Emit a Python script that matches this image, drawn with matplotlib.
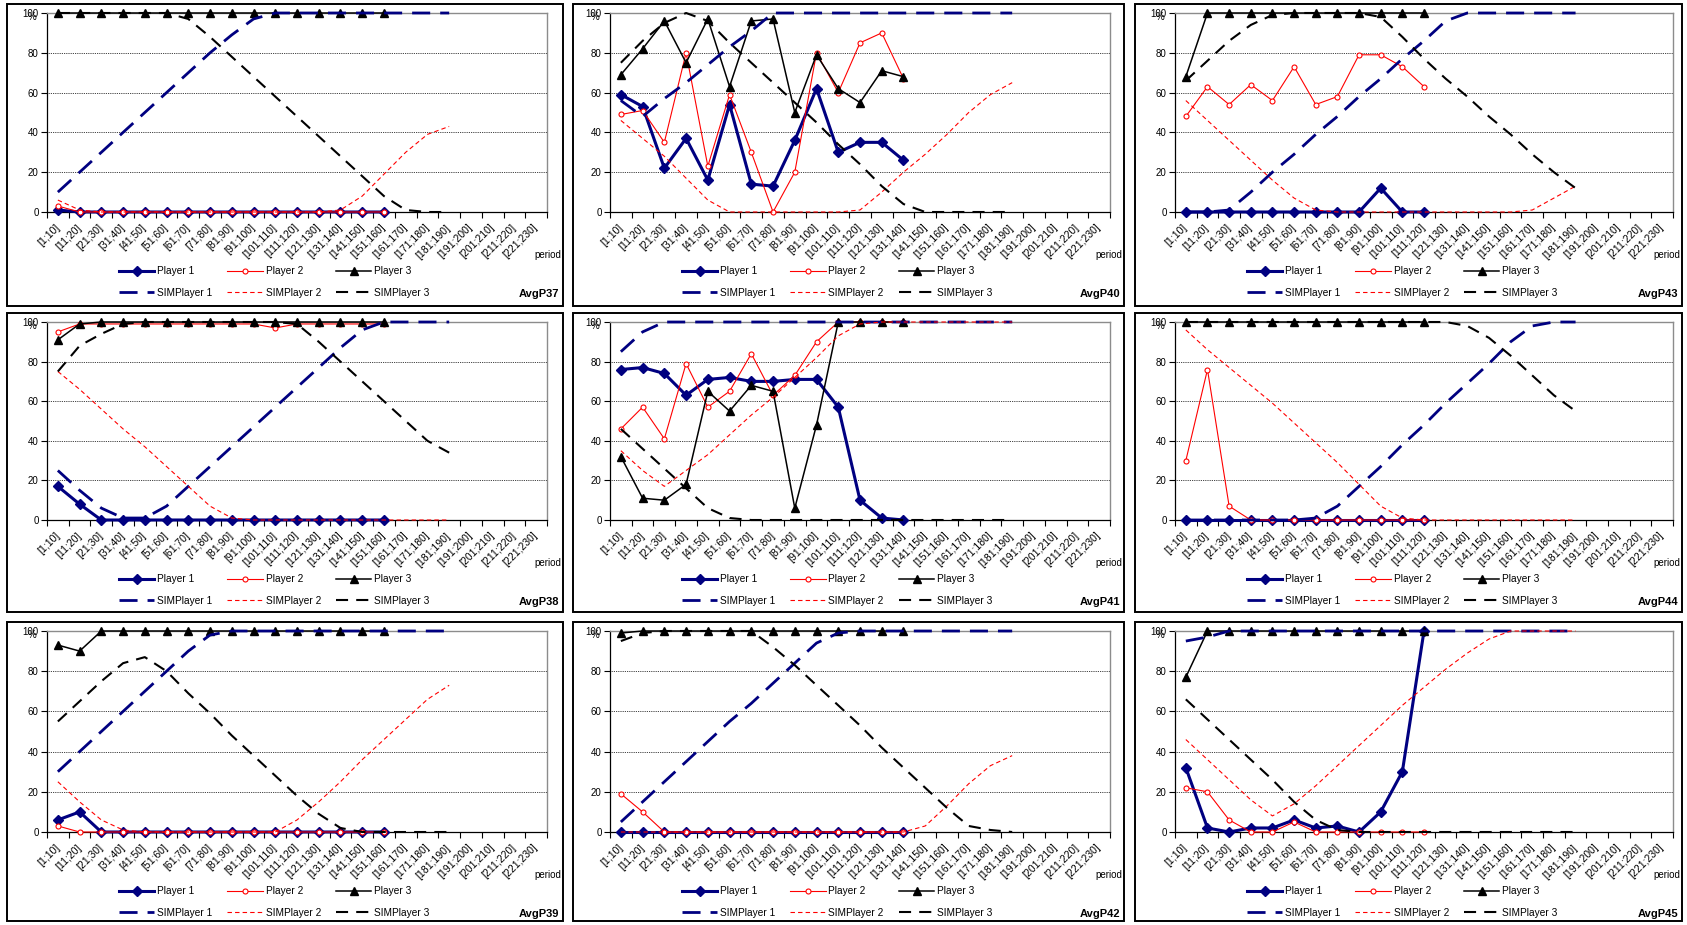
import matplotlib
matplotlib.use("Agg")
import matplotlib.pyplot as plt
from matplotlib.patches import Rectangle

plt.rcParams['font.family'] = ['Liberation Sans', 'DejaVu Sans']

periods = ["[1;10]", "[11;20]", "[21;30]", "[31;40]", "[41;50]", "[51;60]",
           "[61;70]", "[71;80]", "[81;90]", "[91;100]", "[101;110]", "[111;120]",
           "[121;130]", "[131;140]", "[141;150]", "[151;160]", "[161;170]",
           "[171;180]", "[181;190]", "[191;200]", "[201;210]", "[211;220]",
           "[221;230]"]
y_ticks = [0, 20, 40, 60, 80, 100]
series_names = ["Player 1", "Player 2", "Player 3",
                "SIMPlayer 1", "SIMPlayer 2", "SIMPlayer 3"]

# ---- AvgP37 ----
p37_player1 = [1, 0, 0, 0, 0, 0, 0, 0, 0, 0, 0, 0, 0, 0, 0, 0]
p37_player2 = [3, 0, 0, 0, 0, 0, 0, 0, 0, 0, 0, 0, 0, 0, 0, 0]
p37_player3 = [100, 100, 100, 100, 100, 100, 100, 100, 100, 100, 100, 100, 100, 100, 100, 100]
p37_sim1 = [10, 20, 30, 40, 50, 60, 70, 80, 89, 97, 100, 100, 100, 100, 100, 100, 100, 100, 100]
p37_sim2 = [6, 1, 0, 0, 0, 0, 0, 0, 0, 0, 0, 0, 0, 1, 8, 19, 30, 39, 43]
p37_sim3 = [100, 100, 100, 100, 100, 100, 97, 88, 78, 68, 58, 48, 38, 28, 18, 8, 1, 0, 0]

# ---- AvgP40 ----
p40_player1 = [59, 53, 22, 37, 16, 54, 14, 13, 36, 62, 30, 35, 35, 26]
p40_player2 = [49, 51, 35, 80, 23, 59, 30, 0, 20, 80, 60, 85, 90, 67]
p40_player3 = [69, 82, 96, 75, 97, 63, 96, 97, 50, 79, 62, 55, 71, 68]
p40_sim1 = [56, 48, 57, 65, 74, 83, 91, 100, 100, 100, 100, 100, 100, 100, 100, 100, 100, 100, 100]
p40_sim2 = [46, 37, 28, 17, 6, 0, 0, 0, 0, 0, 0, 1, 10, 20, 29, 39, 50, 59, 65]
p40_sim3 = [75, 86, 95, 100, 96, 85, 75, 65, 55, 45, 34, 24, 13, 4, 0, 0, 0, 0, 0]

# ---- AvgP43 ----
p43_player1 = [0, 0, 0, 0, 0, 0, 0, 0, 0, 12, 0, 0]
p43_player2 = [48, 63, 54, 64, 56, 73, 54, 58, 79, 79, 73, 63]
p43_player3 = [68, 100, 100, 100, 100, 100, 100, 100, 100, 100, 100, 100]
p43_sim1 = [0, 0, 1, 10, 20, 29, 39, 48, 58, 67, 77, 86, 96, 100, 100, 100, 100, 100, 100]
p43_sim2 = [56, 46, 36, 26, 16, 7, 1, 0, 0, 0, 0, 0, 0, 0, 0, 0, 1, 7, 13]
p43_sim3 = [66, 76, 86, 94, 99, 100, 100, 100, 100, 98, 88, 77, 67, 58, 48, 39, 29, 20, 12]

# ---- AvgP38 ----
p38_player1 = [17, 8, 0, 0, 0, 0, 0, 0, 0, 0, 0, 0, 0, 0, 0, 0]
p38_player2 = [95, 99, 99, 99, 99, 99, 99, 99, 99, 99, 97, 99, 99, 99, 99, 99]
p38_player3 = [91, 99, 100, 100, 100, 100, 100, 100, 100, 100, 100, 100, 100, 100, 100, 100]
p38_sim1 = [25, 15, 6, 1, 1, 7, 17, 27, 37, 47, 57, 67, 77, 87, 96, 100, 100, 100, 100]
p38_sim2 = [75, 66, 56, 46, 37, 27, 17, 7, 1, 0, 0, 0, 0, 0, 0, 0, 0, 0, 0]
p38_sim3 = [75, 88, 94, 99, 100, 100, 100, 100, 100, 100, 100, 99, 90, 80, 70, 60, 50, 40, 34]

# ---- AvgP41 ----
p41_player1 = [76, 77, 74, 63, 71, 72, 70, 70, 71, 71, 57, 10, 1, 0]
p41_player2 = [46, 57, 41, 79, 57, 65, 84, 63, 73, 90, 100, 100, 100, 100]
p41_player3 = [32, 11, 10, 18, 65, 55, 68, 65, 6, 48, 100, 100, 100, 100]
p41_sim1 = [85, 95, 100, 100, 100, 100, 100, 100, 100, 100, 100, 100, 100, 100, 100, 100, 100, 100, 100]
p41_sim2 = [35, 25, 17, 25, 33, 43, 53, 62, 72, 82, 93, 99, 100, 100, 100, 100, 100, 100, 100]
p41_sim3 = [46, 36, 26, 16, 6, 1, 0, 0, 0, 0, 0, 0, 0, 0, 0, 0, 0, 0, 0]

# ---- AvgP44 ----
p44_player1 = [0, 0, 0, 0, 0, 0, 0, 0, 0, 0, 0, 0]
p44_player2 = [30, 76, 7, 0, 0, 0, 0, 0, 0, 0, 0, 0]
p44_player3 = [100, 100, 100, 100, 100, 100, 100, 100, 100, 100, 100, 100]
p44_sim1 = [0, 0, 0, 0, 0, 0, 1, 7, 17, 27, 38, 48, 59, 69, 79, 90, 98, 100, 100]
p44_sim2 = [96, 86, 77, 68, 59, 49, 39, 29, 18, 7, 1, 0, 0, 0, 0, 0, 0, 0, 0]
p44_sim3 = [100, 100, 100, 100, 100, 100, 100, 100, 100, 100, 100, 100, 100, 98, 92, 83, 73, 63, 55]

# ---- AvgP39 ----
p39_player1 = [6, 10, 0, 0, 0, 0, 0, 0, 0, 0, 0, 0, 0, 0, 0, 0]
p39_player2 = [3, 0, 0, 0, 0, 0, 0, 0, 0, 0, 0, 0, 0, 0, 0, 0]
p39_player3 = [93, 90, 100, 100, 100, 100, 100, 100, 100, 100, 100, 100, 100, 100, 100, 100]
p39_sim1 = [30, 40, 50, 60, 70, 80, 90, 98, 100, 100, 100, 100, 100, 100, 100, 100, 100, 100, 100]
p39_sim2 = [25, 15, 6, 1, 0, 0, 0, 0, 0, 0, 0, 6, 15, 25, 36, 46, 56, 66, 73]
p39_sim3 = [55, 65, 75, 84, 87, 80, 69, 59, 48, 38, 28, 18, 9, 2, 0, 0, 0, 0, 0]

# ---- AvgP42 ----
p42_player1 = [0, 0, 0, 0, 0, 0, 0, 0, 0, 0, 0, 0, 0, 0]
p42_player2 = [19, 10, 0, 0, 0, 0, 0, 0, 0, 0, 0, 0, 0, 0]
p42_player3 = [99, 100, 100, 100, 100, 100, 100, 100, 100, 100, 100, 100, 100, 100]
p42_sim1 = [5, 15, 25, 35, 45, 55, 64, 74, 84, 94, 99, 100, 100, 100, 100, 100, 100, 100, 100]
p42_sim2 = [0, 0, 0, 0, 0, 0, 0, 0, 0, 0, 0, 0, 0, 0, 3, 13, 24, 33, 38]
p42_sim3 = [95, 99, 100, 100, 100, 100, 100, 92, 83, 73, 63, 53, 42, 32, 22, 12, 3, 1, 0]

# ---- AvgP45 ----
p45_player1 = [32, 2, 0, 2, 2, 6, 2, 3, 0, 10, 30, 100]
p45_player2 = [22, 20, 6, 0, 0, 5, 0, 0, 0, 0, 0, 0]
p45_player3 = [77, 100, 100, 100, 100, 100, 100, 100, 100, 100, 100, 100]
p45_sim1 = [95, 97, 100, 100, 100, 100, 100, 100, 100, 100, 100, 100, 100, 100, 100, 100, 100, 100, 100]
p45_sim2 = [46, 36, 26, 16, 8, 14, 23, 33, 43, 53, 63, 72, 81, 89, 96, 100, 100, 100, 100]
p45_sim3 = [66, 56, 46, 36, 26, 15, 6, 1, 0, 0, 0, 0, 0, 0, 0, 0, 0, 0, 0]

# grid of charts, row by row
panels = [
    [("AvgP37", [p37_player1, p37_player2, p37_player3, p37_sim1, p37_sim2, p37_sim3]),
     ("AvgP40", [p40_player1, p40_player2, p40_player3, p40_sim1, p40_sim2, p40_sim3]),
     ("AvgP43", [p43_player1, p43_player2, p43_player3, p43_sim1, p43_sim2, p43_sim3])],
    [("AvgP38", [p38_player1, p38_player2, p38_player3, p38_sim1, p38_sim2, p38_sim3]),
     ("AvgP41", [p41_player1, p41_player2, p41_player3, p41_sim1, p41_sim2, p41_sim3]),
     ("AvgP44", [p44_player1, p44_player2, p44_player3, p44_sim1, p44_sim2, p44_sim3])],
    [("AvgP39", [p39_player1, p39_player2, p39_player3, p39_sim1, p39_sim2, p39_sim3]),
     ("AvgP42", [p42_player1, p42_player2, p42_player3, p42_sim1, p42_sim2, p42_sim3]),
     ("AvgP45", [p45_player1, p45_player2, p45_player3, p45_sim1, p45_sim2, p45_sim3])],
]

NAVY = "#000080"
styles = [
    dict(color=NAVY, lw=2.2, marker="D", ms=5.3, mfc=NAVY, mec=NAVY),
    dict(color="#FF0000", lw=0.8, marker="o", ms=3.6, mfc="white", mec="#FF0000", mew=0.8),
    dict(color="black", lw=1.1, marker="^", ms=6, mfc="black", mec="black"),
    dict(color=NAVY, lw=2.0, dashes=(6.5, 3.6)),
    dict(color="#FF0000", lw=0.8, dashes=(4.0, 2.8)),
    dict(color="black", lw=1.5, dashes=(5.8, 3.9)),
]

W, H = 1687, 925
fig = plt.figure(figsize=(W / 100, H / 100), dpi=100)
fig.patch.set_facecolor("white")

col_axes_x = [(47, 547), (610, 1110), (1175, 1673)]
col_frame_x = [(7, 563), (573, 1124), (1135, 1682)]
row_axes_y = [(13, 212), (322, 520), (631, 832)]
row_frame_y = [(4, 306), (313, 612), (622, 921)]


def fx(px):
    return px / W


def fy(py):
    return 1 - py / H


for r, row in enumerate(panels):
    for c, (title, data) in enumerate(row):
        ax0, ax1 = col_axes_x[c]
        ay0, ay1 = row_axes_y[r]
        bx0, bx1 = col_frame_x[c]
        by0, by1 = row_frame_y[r]

        fig.patches.append(Rectangle((fx(bx0), fy(by1)), fx(bx1) - fx(bx0),
                                     fy(by0) - fy(by1), transform=fig.transFigure,
                                     fill=False, lw=1.4, ec="black", zorder=0))

        ax = fig.add_axes([fx(ax0), fy(ay1), fx(ax1) - fx(ax0), fy(ay0) - fy(ay1)])
        ax.set_xlim(0, len(periods))
        ax.set_ylim(0, 100)

        handles = []
        for k, (values, st) in enumerate(zip(data, styles)):
            xs = [i + 0.5 for i in range(len(values))]
            ln, = ax.plot(xs, values, clip_on=False, zorder=3 + k,
                          label=series_names[k], **st)
            handles.append(ln)

        # axes styling
        ax.set_yticks(y_ticks)
        ax.set_yticklabels([str(v) for v in y_ticks])
        ax.tick_params(axis="y", length=4, width=0.8, labelsize=7, pad=2,
                       direction="out")
        ax.set_xticks([i + 0.5 for i in range(len(periods))])
        ax.set_xticklabels(periods, rotation=45, ha="right", va="center",
                           rotation_mode="anchor", fontsize=7.5)
        ax.tick_params(axis="x", which="major", length=0, pad=10)
        ax.set_xticks(range(len(periods) + 1), minor=True)
        ax.tick_params(axis="x", which="minor", length=4, width=0.8,
                       direction="out")
        ax.yaxis.grid(True, color="black", linestyle=(0, (1, 1.2)), lw=0.6)
        ax.set_axisbelow(True)
        for side in ("left", "bottom"):
            ax.spines[side].set_color("black")
            ax.spines[side].set_linewidth(0.9)
        for side in ("right", "top"):
            ax.spines[side].set_color("#8c8c8c")
            ax.spines[side].set_linewidth(1.0)

        ax.text(-0.022, 0.978, "%", transform=ax.transAxes, ha="right",
                va="center", fontsize=7)

        # legend below the plot area
        order = [0, 3, 1, 4, 2, 5]
        fig.legend([handles[i] for i in order], [series_names[i] for i in order],
                   loc="center left",
                   bbox_to_anchor=(fx(ax0 + 72), fy(ay1 + 70)),
                   bbox_transform=fig.transFigure, ncol=3, frameon=False,
                   fontsize=7.3, handlelength=3.5, handletextpad=0.25,
                   columnspacing=1.5, labelspacing=1.15, borderpad=0,
                   borderaxespad=0)

        fig.text(fx(bx1 - 2), fy(ay1 + 43), "period", ha="right", va="center",
                 fontsize=7)
        fig.text(fx(bx1 - 4), fy(ay1 + 82), title, ha="right", va="center",
                 fontsize=8, fontweight="bold")

fig.savefig("out.png", dpi=100, facecolor="white")
